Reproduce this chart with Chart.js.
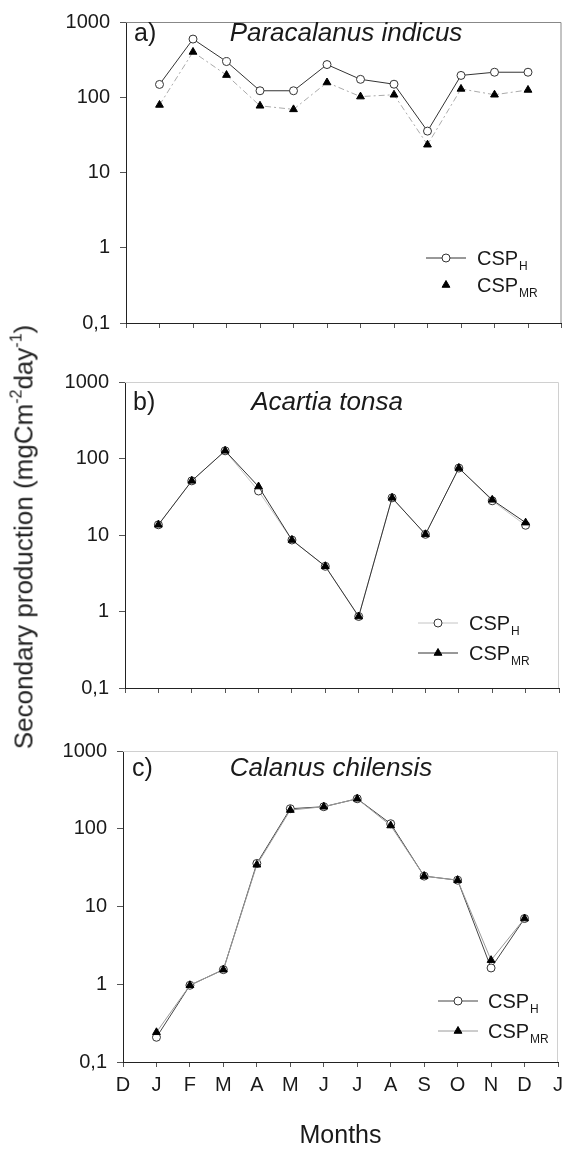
<!DOCTYPE html>
<html>
<head>
<meta charset="utf-8">
<script src="https://cdn.jsdelivr.net/npm/chart.js@4/dist/chart.umd.min.js"></script>
<style>
  body { margin: 0; background: #fff; }
  #wrap { position: relative; width: 567px; height: 1156px; overflow: hidden; font-family: "Liberation Sans", Arial, sans-serif; }
  canvas { position: absolute; left: 0; }
  #ytitle {
    position: absolute; left: 24px; top: 537px;
    transform: translate(-50%, -50%) rotate(-90deg);
    white-space: nowrap; font-size: 26px; color: #222;
  }
  #ytitle sup { font-size: 16px; vertical-align: 11px; line-height: 0; }
</style>
</head>
<body>
<div id="wrap">
  <canvas id="chartA" width="567" height="345" style="top:0px"></canvas>
  <canvas id="chartB" width="567" height="365" style="top:345px"></canvas>
  <canvas id="chartC" width="567" height="446" style="top:710px"></canvas>
  <div id="ytitle">Secondary production (mgCm<sup>-2</sup>day<sup>-1</sup>)</div>
</div>
<script>
// month positions: 0 = D (previous year) ... 13 = J (next year)
const monthLabels = ['D', 'J', 'F', 'M', 'A', 'M', 'J', 'J', 'A', 'S', 'O', 'N', 'D', 'J'];
const monthIdx = [1, 2, 3, 4, 5, 6, 7, 8, 9, 10, 11, 12];

const yTicks = [0.1, 1, 10, 100, 1000];
const yTickLabels = ['0,1', '1', '10', '100', '1000'];

// a) Paracalanus indicus
const paraH  = [148, 593, 298, 122, 122, 272, 173, 149, 35.5, 195, 215, 215];
const paraMR = [79, 400, 197, 77, 69, 157, 102, 108, 23.4, 129, 108, 125];

// b) Acartia tonsa
const acarH  = [13.6, 51, 126, 37.6, 8.6, 3.9, 0.86, 30.6, 10.2, 75, 28, 13.4];
const acarMR = [13.6, 51, 126, 43, 8.6, 3.9, 0.86, 30.6, 10.2, 75, 28.8, 14.5];

// c) Calanus chilensis
const calH  = [0.208, 0.97, 1.54, 35.8, 181, 192, 243, 116, 24.6, 21.8, 1.62, 7.0];
const calMR = [0.241, 0.97, 1.54, 34.4, 174, 192, 243, 110, 24.6, 21.8, 2.04, 7.0];

const FONT = '"Liberation Sans", Arial, sans-serif';

function toPoints(values) {
  return values.map((v, i) => ({ x: monthIdx[i], y: v }));
}

// draws top/right frame, panel letter, species name and the legend
const panelDecor = {
  id: 'panelDecor',
  afterDraw(chart, args, opts) {
    const ctx = chart.ctx;
    const a = chart.chartArea;
    ctx.save();
    ctx.strokeStyle = opts.frameColor;
    ctx.lineWidth = 1;
    ctx.beginPath();
    ctx.moveTo(a.left, a.top + 0.5);
    ctx.lineTo(a.right - 0.5, a.top + 0.5);
    ctx.lineTo(a.right - 0.5, a.bottom);
    ctx.stroke();

    ctx.fillStyle = '#1a1a1a';
    ctx.textBaseline = 'middle';
    ctx.textAlign = 'left';
    ctx.font = '25px ' + FONT;
    ctx.fillText(opts.letter, opts.letterX, opts.titleY);
    ctx.textAlign = 'center';
    ctx.font = 'italic 26px ' + FONT;
    ctx.fillText(opts.species, opts.titleX, opts.titleY);

    // legend
    const lg = opts.legend;
    chart.data.datasets.forEach((ds, i) => {
      const y = lg.rows[i];
      const cx = (lg.x1 + lg.x2) / 2;
      if (lg.lines[i]) {
        ctx.strokeStyle = ds.borderColor;
        ctx.lineWidth = 1;
        ctx.setLineDash([]);
        ctx.beginPath();
        ctx.moveTo(lg.x1, y);
        ctx.lineTo(lg.x2, y);
        ctx.stroke();
      }
      ctx.fillStyle = ds.pointBackgroundColor;
      ctx.strokeStyle = ds.pointBorderColor;
      ctx.lineWidth = 1;
      Chart.helpers.drawPoint(ctx, {
        pointStyle: ds.pointStyle,
        radius: ds.pointRadius,
        borderWidth: 1,
        rotation: 0
      }, cx, y);

      ctx.fillStyle = '#1a1a1a';
      ctx.textAlign = 'left';
      ctx.textBaseline = 'alphabetic';
      ctx.font = '20px ' + FONT;
      ctx.fillText('CSP', lg.tx, y + 7);
      const w = ctx.measureText('CSP').width;
      ctx.font = '12px ' + FONT;
      ctx.fillText(ds.label, lg.tx + w + 1, y + 12);
    });
    ctx.restore();
  }
};

function makeChart(id, box, hVals, mrVals, styles, decor, showLabels) {
  const ctx = document.getElementById(id).getContext('2d');
  const canvasH = ctx.canvas.height;

  return new Chart(ctx, {
    type: 'line',
    data: {
      datasets: [{
        label: 'H',
        data: toPoints(hVals),
        borderColor: styles.hLine,
        borderWidth: 1,
        borderDash: styles.hDash || [],
        pointStyle: 'circle',
        pointRadius: 4,
        pointBackgroundColor: '#fff',
        pointBorderColor: '#333',
        pointBorderWidth: 1,
        tension: 0,
        order: 2
      }, {
        label: 'MR',
        data: toPoints(mrVals),
        borderColor: styles.mrLine,
        borderWidth: 1,
        borderDash: styles.mrDash || [],
        pointStyle: 'triangle',
        pointRadius: 4.5,
        pointBackgroundColor: '#000',
        pointBorderColor: '#000',
        pointBorderWidth: 1,
        tension: 0,
        order: 1
      }]
    },
    options: {
      responsive: false,
      animation: false,
      devicePixelRatio: 1,
      clip: false,
      layout: {
        padding: { top: box.top, right: 567 - box.right, bottom: 0, left: 0 }
      },
      plugins: {
        legend: { display: false },
        tooltip: { enabled: false },
        panelDecor: decor
      },
      scales: {
        x: {
          type: 'linear',
          min: 0,
          max: 13,
          afterFit: scale => {
            scale.height = canvasH - box.bottom;
            scale.paddingLeft = 0;
            scale.paddingRight = 0;
          },
          afterBuildTicks: scale => {
            scale.ticks = monthLabels.map((m, i) => ({ value: i }));
          },
          ticks: {
            autoSkip: false,
            maxRotation: 0,
            padding: 6,
            color: '#1a1a1a',
            font: { family: FONT, size: 20 },
            callback: (value, index) => showLabels ? monthLabels[index] : ''
          },
          grid: { drawOnChartArea: false, drawTicks: true, tickLength: 5, color: '#555' },
          border: { display: true, color: '#222', width: 1 },
          title: {
            display: showLabels,
            text: 'Months',
            color: '#1a1a1a',
            font: { family: FONT, size: 25 },
            padding: { top: 0, bottom: 5 }
          }
        },
        y: {
          type: 'logarithmic',
          min: 0.1,
          max: 1000,
          afterFit: scale => {
            scale.width = box.left;
          },
          afterBuildTicks: scale => {
            scale.ticks = yTicks.map(v => ({ value: v }));
          },
          ticks: {
            padding: 10,
            color: '#1a1a1a',
            font: { family: FONT, size: 20 },
            callback: (value, index) => yTickLabels[index]
          },
          grid: { drawOnChartArea: false, drawTicks: true, tickLength: 6, color: '#555' },
          border: { display: true, color: '#222', width: 1 }
        }
      }
    },
    plugins: [panelDecor]
  });
}

window.addEventListener('DOMContentLoaded', () => {
  makeChart('chartA', { left: 126, right: 562, top: 16, bottom: 328.5 }, paraH, paraMR,
    { hLine: '#333', mrLine: '#aaa', mrDash: [6, 3, 2, 3] },
    {
      frameColor: '#888', letter: 'a)', letterX: 134, species: 'Paracalanus indicus',
      titleX: 346, titleY: 34,
      legend: { rows: [258, 285], lines: [true, false], x1: 426, x2: 466, tx: 477 }
    }, false);

  makeChart('chartB', { left: 125, right: 559, top: 37, bottom: 350 }, acarH, acarMR,
    { hLine: '#c4c4c4', mrLine: '#333' },
    {
      frameColor: '#d0d0d0', letter: 'b)', letterX: 133, species: 'Acartia tonsa',
      titleX: 327, titleY: 58,
      legend: { rows: [278, 308], lines: [true, true], x1: 418, x2: 458, tx: 469 }
    }, false);

  makeChart('chartC', { left: 123, right: 558, top: 41, bottom: 352 }, calH, calMR,
    { hLine: '#444', mrLine: '#9a9a9a' },
    {
      frameColor: '#d0d0d0', letter: 'c)', letterX: 132, species: 'Calanus chilensis',
      titleX: 331, titleY: 59,
      legend: { rows: [291, 321], lines: [true, true], x1: 438, x2: 478, tx: 488 }
    }, true);
});
</script>
</body>
</html>
